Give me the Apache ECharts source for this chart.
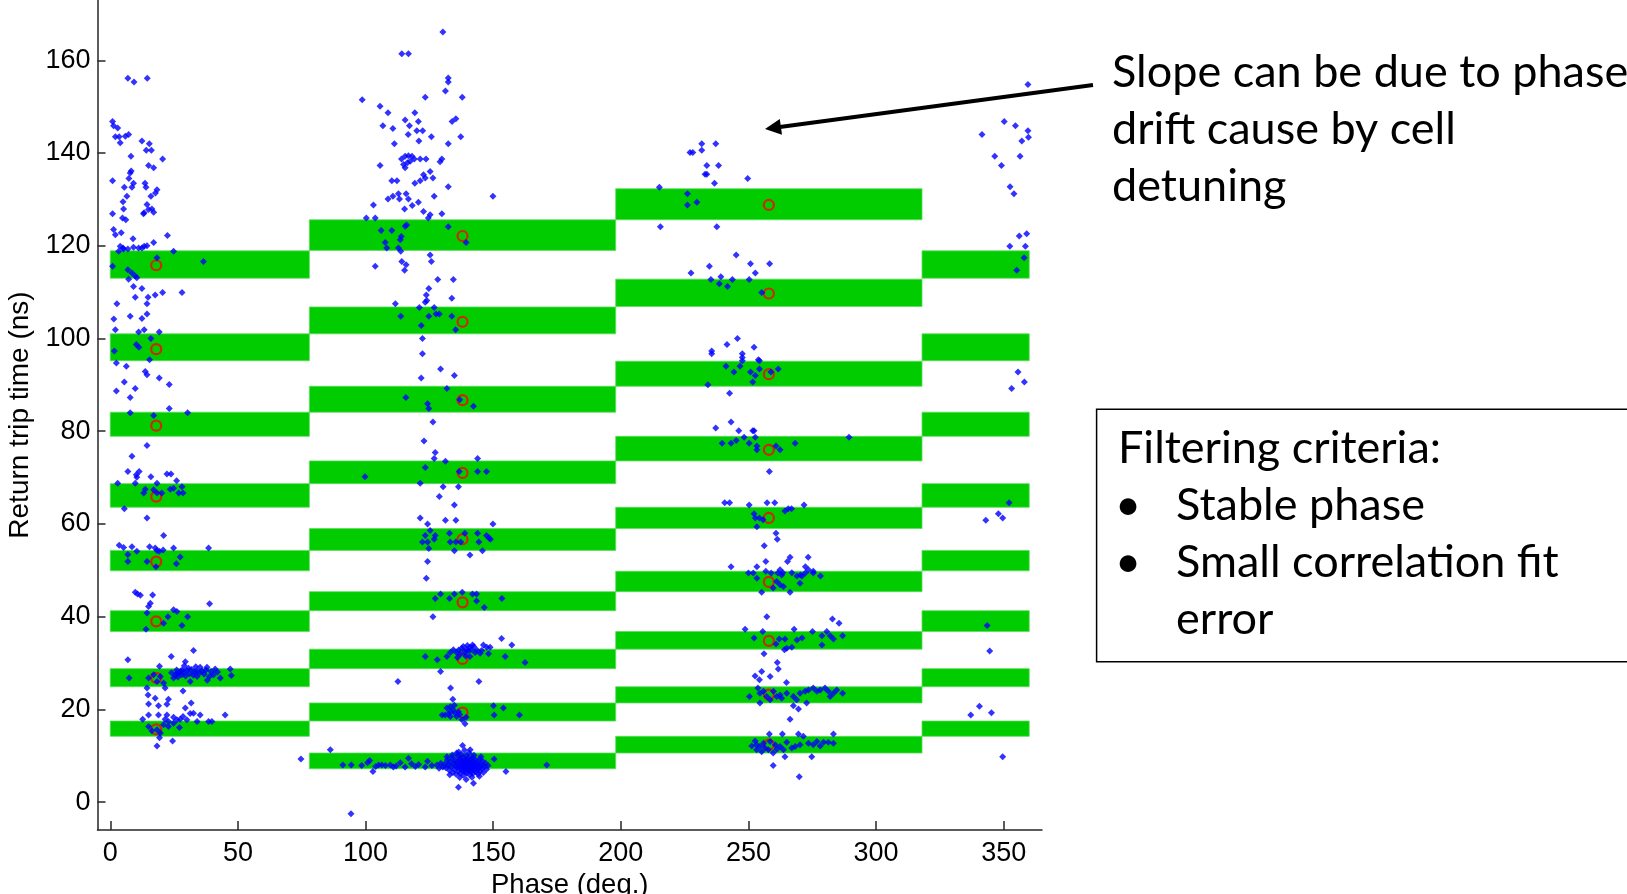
<!DOCTYPE html>
<html>
<head>
<meta charset="utf-8">
<script src="https://cdn.jsdelivr.net/npm/echarts@6/dist/echarts.min.js"></script>
<style>
html,body{margin:0;padding:0;background:#fff;}
#chart{width:1627px;height:894px;}
</style>
</head>
<body>
<div id="chart"></div>
<script>
// ---- tick labels ----
var xTicks = [0, 50, 100, 150, 200, 250, 300, 350];
var yTicks = [0, 20, 40, 60, 80, 100, 120, 140, 160];

// ---- green acceptance windows: phase columns and time bands [low, high] ----
var colEdges = [0, 78, 198, 318, 360];
var bandsA = [[113.0,118.9],[95.2,101.0],[78.9,84.1],[63.6,68.7],[49.9,54.3],[36.8,41.3],[24.9,28.8],[14.2,17.5]];
var bandsB = [[119.0,125.6],[101.0,106.8],[84.1,89.7],[68.7,73.6],[54.3,59.0],[41.3,45.4],[28.8,33.0],[17.5,21.4],[7.2,10.6]];
var bandsC = [[125.6,132.3],[106.9,112.8],[89.7,95.1],[73.6,78.9],[59.0,63.6],[45.4,49.8],[33.0,36.8],[21.4,24.9],[10.6,14.2]];

// ---- red circles: phase and times ----
var circlePhase = [18, 138, 258];
var circleTimesA = [115.8, 97.7, 81.2, 65.9, 51.9, 39.0, 26.8, 15.7];
var circleTimesB = [122.1, 103.6, 86.7, 71.0, 56.7, 43.1, 30.9, 19.3, 8.9];
var circleTimesC = [128.8, 109.7, 92.3, 76.0, 61.3, 47.5, 34.8, 23.2, 12.4];

// ---- blue measured points [phase, time] ----
var blueCol1 = [
[6.9,156.1],[9.3,155.3],[14.5,156.1],[0.9,146.8],[1.3,145.9],[2.9,145.4],
[2.0,143.5],[3.5,143.5],[3.9,142.2],[5.9,143.6],[7.2,144.0],
[12.4,142.6],[15.3,142.0],[16.1,140.6],[14.1,140.6],[8.1,139.3],[20.5,138.7],[15.0,137.3],[17.0,136.8],
[0.9,134.0],[8.2,136.1],[7.8,135.7],[7.3,134.5],[9.1,133.5],[8.5,132.6],[5.5,132.6],[6.5,130.7],[13.6,133.5],[14.0,132.6],[18.3,132.1],[17.7,131.4],[15.9,130.7],[5.0,129.5],[5.2,127.9],[4.8,126.0],[6.1,125.6],
[0.9,126.9],[14.4,128.9],[15.0,127.8],[13.3,127.1],[13.0,126.9],[16.3,127.9],[17.0,127.2],
[1.3,123.5],[2.0,122.4],[4.3,122.8],[3.9,119.9],[5.0,119.5],[3.3,118.8],[5.2,119.3],[6.9,119.3],
[8.9,121.5],[9.1,119.7],[11.1,119.5],[12.4,119.5],[13.3,119.9],[14.4,120.0],[17.0,120.7],[22.4,122.2],[24.8,118.8],[18.3,117.4],[36.5,116.6],[0.9,115.6],[6.9,114.8],[8.5,114.1],[10.4,113.1],[9.8,113.5],[7.2,112.8],[9.1,111.2],[12.4,110.8],[14.8,108.9],[9.8,108.9],[17.6,109.4],[20.5,109.9],[28.1,109.9],
[2.6,107.5],[14.4,107.5],[7.8,104.8],[12.4,104.3],[14.4,105.3],[1.4,104.2],[2.0,101.9],[11.1,101.4],[13.3,101.9],[19.2,101.4],[15.9,100.0],[1.6,97.3],[2.4,94.7],[10.2,98.7],[11.2,98.1],[15.4,95.4],[6.3,94.0],[13.7,92.9],[14.4,92.2],[5.5,90.6],[2.4,88.7],[9.8,89.2],[7.8,87.3],[19.2,91.5],[23.1,90.1],[7.8,84.0],[17.0,83.4],[23.1,84.9],[30.3,84.0],
[14.4,76.9],[8.5,74.6],[6.9,71.3],[11.3,71.3],[10.2,70.6],[2.9,68.8],[9.8,68.8],[18.3,68.8],[15.9,70.2],[22.2,70.8],[23.8,70.8],[26.0,69.3],[28.1,68.0],[28.5,66.7],[26.8,66.7],[24.8,67.7],[23.5,67.5],[20.2,66.7],[18.3,66.7],[13.7,67.5],[13.1,66.7],[17.0,67.4],[10.4,70.1],[5.5,63.3],[14.4,61.3],
[3.5,55.4],[5.2,54.9],[8.5,55.1],[10.4,54.1],[6.9,53.4],[6.9,51.9],[14.4,51.9],[15.4,55.1],[17.6,54.8],[18.3,54.3],[19.2,54.1],[20.9,57.5],[20.7,54.4],[24.8,54.8],[27.4,52.9],[25.9,51.4],[38.5,54.8],[17.9,50.8],
[9.8,45.3],[10.7,44.9],[11.8,44.6],[16.6,44.7],[15.7,42.9],[15.0,42.2],[14.4,40.8],[14.0,37.3],[20.9,38.6],[22.6,40.0],[24.8,41.5],[26.1,41.1],[28.1,38.1],[30.3,40.0],[38.9,42.8],
[6.9,30.7],[7.4,26.8],[23.9,31.4],[19.3,29.3],[14.4,24.6],[15.0,26.8],[19.6,27.1],[21.5,24.6],[20.9,25.7],[24.8,26.8],[26.1,27.8],[28.1,28.5],[29.4,30.3],[30.7,28.9],[32.6,32.7],[31.3,26.0],[28.5,24.0],[34.0,28.2],[35.2,29.1],[37.9,29.1],[38.9,27.1],[41.1,28.7],[43.1,26.8],[47.0,28.7],[47.4,27.3],[17.0,27.5],[18.3,26.0],
[26.0,28.5],[27.0,27.8],[27.5,28.2],[28.0,27.5],[28.8,28.0],[29.5,27.2],[30.0,28.4],[31.0,27.7],[31.8,28.6],[32.5,27.4],[33.0,28.0],[34.0,27.1],[35.0,27.9],[36.0,28.3],[36.8,27.6],[37.5,28.5],[39.5,28.2],[40.5,27.5],[42.0,28.1],[25.5,27.4],[26.5,27.0],[24.0,27.9],[29.0,29.4],[33.5,29.2],[38.0,26.3],
[12.7,17.9],[14.8,23.1],[15.0,21.2],[17.6,22.4],[18.9,20.8],[22.2,21.1],[22.8,22.2],[15.0,18.8],[18.9,18.8],[22.2,18.8],[18.3,15.6],[19.6,14.9],[19.3,13.9],[20.9,16.7],[22.8,17.4],[24.8,17.0],[26.1,17.8],[27.4,17.9],[28.5,18.5],[29.4,20.3],[31.7,21.4],[31.3,19.1],[32.6,19.2],[35.2,18.8],[34.0,17.4],[38.5,17.4],[39.8,17.4],[45.0,18.8],[27.1,16.1],[24.4,13.2],[18.3,12.1],[15.0,16.3],[16.3,15.4],[21.5,17.9],[24.8,18.3],[22.8,16.3],[30.0,17.8]
];
var blueCol2 = [
[130.3,166.1],[114.2,161.4],[116.8,161.4],[132.4,156.2],[132.4,155.3],[131.3,153.4],
[98.7,151.5],[105.7,150.1],[108.8,148.7],[123.4,152.0],[137.9,152.0],
[106.8,145.9],[110.7,145.3],[115.5,147.1],[117.2,145.9],[119.3,148.7],[120.7,146.8],[120.1,144.8],[122.4,144.8],[133.9,146.8],[135.4,147.4],[125.8,143.5],[137.3,143.5],[116.7,144.0],[120.9,142.6],[111.3,142.0],[132.4,142.0],
[105.7,137.3],[114.1,138.7],[115.5,139.3],[116.8,139.4],[118.2,139.3],[119.1,138.7],[121.4,138.7],[123.7,138.7],[114.9,137.5],[115.5,136.8],[116.4,137.9],[117.5,138.2],[129.2,138.1],[129.9,138.7],
[110.3,134.0],[112.3,134.0],[125.3,136.0],[126.4,134.6],[122.7,135.3],[123.4,134.6],[121.4,134.0],[119.3,133.5],[132.4,132.7],[149.9,130.7],
[108.8,130.1],[110.7,130.7],[112.9,131.2],[115.9,131.2],[116.8,130.1],[113.3,130.1],[120.7,129.4],[118.3,128.7],[115.3,127.9],[122.7,127.4],[125.3,126.7],[124.6,126.0],[129.9,126.9],[126.9,130.7],[103.1,128.8],
[100.3,126.0],[103.8,126.0],[115.5,124.2],[116.1,124.5],[132.4,124.1],
[106.1,123.3],[110.3,123.3],[114.0,122.0],[113.6,121.3],[107.7,120.7],[108.3,119.5],[112.9,119.5],[113.8,118.8],[139.4,120.7],
[103.8,115.6],[114.2,116.6],[115.9,115.9],[115.3,114.7],[125.3,118.0],[125.8,116.6],
[128.3,112.7],[134.4,112.7],[124.8,110.8],[123.8,109.4],[133.8,108.7],
[123.4,107.8],[124.0,108.2],[111.7,107.5],[121.1,106.7],[126.9,106.7],
[113.8,104.8],[124.8,104.8],[127.6,105.3],[128.9,105.3],[133.8,104.8],[121.8,102.8],[135.3,101.9],
[122.3,100.0],[122.3,96.7],[129.4,93.4],[134.8,92.0],[121.8,91.5],[131.9,89.2],
[115.8,87.3],[124.3,85.9],[124.8,84.9],[136.9,86.8],[142.3,85.4],[126.4,82.0],[122.9,77.9],
[127.3,75.4],[126.9,74.1],[131.3,73.5],[143.9,74.1],[123.4,72.2],[99.8,70.2],[136.7,71.3],[143.9,71.3],[147.4,71.3],
[121.4,68.8],[130.4,68.0],[136.4,68.0],[128.9,65.9],[134.8,64.1],
[121.4,61.3],[124.3,60.0],[131.3,60.8],[135.4,60.8],[149.9,60.0],
[125.3,58.6],[123.4,57.5],[127.3,57.5],[126.9,56.7],[132.9,58.0],[122.3,56.1],[124.3,56.1],[133.2,56.1],[135.4,56.1],[137.3,56.1],[138.9,58.0],[143.9,58.0],[144.4,56.1],[147.4,57.5],[148.4,57.0],[148.9,56.7],[124.8,54.7],[134.8,54.2],[140.9,53.3],[145.8,54.2],[124.3,51.9],[123.8,48.3],
[127.3,43.9],[129.4,44.9],[132.9,43.9],[134.8,44.9],[137.9,45.3],[141.9,44.9],[143.5,44.9],[143.5,43.4],[146.5,42.0],[153.4,43.9],[126.4,40.0],
[123.4,31.4],[128.1,30.7],[129.4,28.2],[131.9,31.4],[133.2,32.3],[134.4,32.9],[135.7,32.3],[137.7,33.2],[138.3,33.6],[139.6,32.9],[140.9,33.4],[141.9,33.9],[140.9,31.4],[142.9,32.3],[144.9,32.1],[146.2,33.9],[147.5,33.4],[148.8,33.4],[148.2,32.0],[153.3,35.3],[157.3,33.9],[154.7,31.4],[162.5,30.1],[112.7,26.0],[133.3,24.6],[144.4,26.0],
[136.5,32.8],[137.1,31.9],[138.9,32.4],[139.2,31.5],[140.2,32.6],[141.3,32.9],[142.4,33.6],[143.6,32.8],[145.5,32.7],[136.0,31.2],[139.9,33.8],
[134.2,22.2],[133.2,20.6],[131.9,20.3],[130.0,18.8],[131.2,18.8],[133.2,18.5],[135.1,19.2],[136.4,19.5],[135.7,18.5],[139.4,18.3],[139.0,16.9],[150.1,20.8],[154.0,20.3],[150.4,18.8],[160.3,18.8],[133.2,19.5],[134.4,19.9],[132.5,19.0],[134.8,20.9],[136.9,18.9],[137.8,17.8],
[86.2,11.3],[74.7,9.3],[91.1,8.0],[94.4,8.0],[101.6,9.0],[100.8,8.5],[102.9,6.6],[105.1,8.0],[106.4,8.0],[109.7,8.0],[110.9,7.6],[113.6,8.5],[115.5,7.6],[116.8,9.5],[123.4,7.6],[124.3,8.8],[128.0,8.0],[131.9,9.8],[135.7,10.6],[138.0,12.2],[141.0,11.3],[145.2,9.8],[150.4,9.3],[155.0,6.6],[171.0,8.0],[136.4,3.2],[142.3,4.1],[94.3,-2.5],
[98.5,7.9],[104.0,7.7],[107.8,7.9],[112.0,7.8],[118.0,8.3],[119.5,7.7],[120.8,8.1],[126.0,7.9],
[131.0,8.2],[131.5,7.4],[132.0,9.1],[132.4,8.0],[132.8,6.9],[133.1,8.7],[133.5,7.7],[133.9,9.6],[134.2,6.4],[134.5,8.3],[134.8,7.1],[135.0,9.0],[135.3,7.9],[135.5,6.0],[135.7,8.6],[136.0,7.4],[136.2,9.9],[136.4,6.7],[136.6,8.1],[136.8,7.6],[137.0,9.3],[137.1,6.2],[137.3,8.8],[137.5,7.2],[137.6,10.3],[137.8,8.4],[138.0,6.8],[138.1,7.8],[138.3,9.5],[138.4,5.8],[138.6,8.2],[138.7,7.0],[138.9,9.0],[139.0,6.5],[139.2,8.6],[139.3,7.5],[139.5,10.0],[139.6,7.9],[139.8,6.3],[139.9,8.9],[140.1,7.3],[140.2,9.4],[140.4,6.9],[140.5,8.1],[140.7,7.7],[140.8,5.9],[141.0,8.5],[141.1,7.1],[141.3,9.2],[141.4,6.6],[141.6,8.0],[141.8,7.4],[141.9,9.7],[142.1,6.2],[142.2,8.7],[142.4,7.6],[142.6,6.9],[142.7,8.3],[142.9,7.2],[143.1,9.1],[143.3,6.5],[143.5,7.9],[143.7,8.6],[143.9,7.0],[144.1,6.1],[144.3,8.2],[144.5,7.5],[144.8,9.3],[145.0,6.7],[145.3,8.0],[145.6,7.3],[145.9,8.8],[146.2,6.4],[146.6,7.7],[147.0,8.4],[147.4,7.1],[148.0,7.9],[134.0,10.2],[136.5,10.8],[138.8,11.2],[140.6,10.6],[142.5,10.1],[133.0,5.9],[136.9,5.3],[139.4,4.9],[141.7,5.4],[144.6,5.6],[130.3,7.6],[129.5,8.4],[128.8,7.3]
];
var blueCol3 = [
[231.7,142.0],[237.2,142.0],[227.1,140.1],[228.2,140.1],[231.7,140.6],[233.7,137.3],[238.3,137.3],[233.0,135.4],[233.7,135.4],[236.7,133.5],[249.7,134.5],[215.1,132.6],[226.1,131.2],[226.1,128.8],[229.8,129.4],[215.5,124.1],[237.6,124.1],
[245.2,118.0],[234.7,115.6],[250.8,116.1],[258.3,116.1],[227.5,114.1],[252.7,114.1],[235.3,112.7],[239.2,113.3],[238.6,111.8],[241.8,111.2],[243.7,112.7],[250.3,112.7],[255.2,109.9],
[245.7,100.0],[241.6,98.7],[252.2,98.1],[235.6,97.3],[235.6,96.7],[247.6,96.7],[247.6,95.9],[247.6,95.2],[253.9,95.4],[254.3,95.2],[241.2,94.0],[244.3,92.8],[246.7,94.0],[250.8,92.8],[252.7,92.0],[254.3,93.4],[258.8,92.8],[261.7,93.4],[251.7,90.6],[234.1,90.0],[242.6,88.2],
[243.2,82.0],[237.2,80.7],[246.2,80.1],[251.7,80.1],[252.2,80.1],[248.3,78.7],[252.7,78.7],[239.7,77.4],[243.2,77.4],[245.2,78.0],[250.3,77.4],[253.3,76.8],[253.3,76.0],[260.8,76.8],[262.4,76.0],[268.3,77.4],[289.4,78.7],[258.2,71.3],
[240.7,64.6],[242.6,64.6],[250.3,64.1],[257.3,64.6],[260.3,64.6],[271.8,64.1],[264.3,62.8],[265.6,63.3],[266.9,63.3],[252.2,62.2],[252.7,61.3],[254.3,61.3],[255.7,60.9],[253.3,59.4],[260.8,58.0],[261.3,56.7],[256.2,55.3],
[243.2,50.8],[253.3,50.8],[256.8,51.9],[265.3,51.9],[266.3,52.8],[273.4,52.8],[272.3,50.8],[273.5,50.1],[275.4,49.8],[256.8,49.8],[250.0,49.4],[251.9,49.4],[262.4,50.1],[263.5,49.5],[267.0,49.5],[269.0,48.8],[271.0,48.8],[278.2,48.8],
[258.9,49.4],[261.5,49.4],[263.0,49.0],[270.4,49.0],[272.3,49.4],[275.4,49.4],[253.3,48.3],[261.1,47.6],[262.4,46.9],[263.7,46.5],[270.2,47.2],[255.2,45.3],[266.3,45.3],[259.7,46.2],
[257.2,40.0],[282.9,39.5],[285.5,38.6],[248.7,37.3],[255.6,36.8],[267.9,37.3],[275.1,36.8],[280.7,36.8],[282.0,35.9],[283.3,35.2],[286.9,35.9],[252.2,35.4],[260.8,34.1],[262.1,35.2],[264.3,35.2],[265.0,33.2],[264.1,32.9],[269.0,35.0],[271.0,35.4],[278.8,35.9],[278.8,33.9],[267.0,33.4],[256.1,32.0],[261.3,30.1],[261.7,28.7],
[252.6,27.2],[255.2,28.2],[258.5,27.1],[254.3,26.4],[264.9,25.8],[253.7,24.6],[250.4,22.8],[254.5,23.5],[255.9,23.9],[259.8,23.9],[262.4,23.1],[265.0,23.5],[267.6,22.8],[268.9,22.1],[270.2,23.5],[272.2,23.9],[273.5,24.2],[275.4,24.6],[276.8,23.9],[278.1,24.2],[280.0,24.6],[281.3,23.9],[282.0,22.8],[283.3,23.5],[284.6,24.2],[286.9,23.5],[254.5,21.4],[261.1,22.8],[267.6,20.8],[269.6,20.1],[272.8,21.4],[266.3,17.9],[257.2,22.8],[258.5,22.1],[263.0,22.4],
[258.2,14.7],[263.3,14.7],[269.6,14.7],[271.5,14.2],[283.3,14.7],[252.6,13.2],[251.3,12.1],[253.2,12.4],[254.5,12.0],[255.9,12.7],[256.5,11.7],[257.8,11.3],[258.5,13.1],[260.5,12.4],[262.4,12.0],[263.7,11.3],[265.0,12.9],[267.0,11.7],[268.3,12.0],[270.2,12.4],[273.5,12.7],[275.4,12.4],[276.8,13.1],[278.1,12.1],[279.4,12.9],[281.3,12.9],[283.3,12.7],[259.7,10.6],[264.3,9.8],[274.8,9.8],[259.7,7.9],[269.9,5.5],[253.2,11.3],[255.2,10.9],[261.1,11.4]
];
var blueCol4 = [
[359.5,154.8],[350.2,146.8],[354.6,145.9],[359.5,144.8],[359.7,143.4],[357.1,142.6],[341.5,144.0],[346.5,139.3],[356.4,139.3],[349.1,137.3],[352.5,132.7],[354.0,131.2],[356.1,122.1],[359.0,122.6],[352.4,119.9],[358.5,119.9],[358.0,117.4],[355.1,114.7],
[355.6,92.8],[358.1,90.6],[353.1,89.2],[352.1,64.6],[347.9,62.2],[349.6,61.3],[343.0,60.8],
[343.5,38.1],[344.5,32.6],[340.5,20.7],[337.1,18.8],[345.2,19.3],[349.6,9.8]
];

// ---- build series data ----
var bandData = [];
function addBands(bands, c0, c1) {
  bands.forEach(function (b) { bandData.push([colEdges[c0], colEdges[c1], b[0], b[1]]); });
}
addBands(bandsA, 0, 1);
addBands(bandsB, 1, 2);
addBands(bandsC, 2, 3);
addBands(bandsA, 3, 4);

var circleData = [];
[circleTimesA, circleTimesB, circleTimesC].forEach(function (ts, i) {
  ts.forEach(function (t) { circleData.push([circlePhase[i], t]); });
});
var blueData = blueCol1.concat(blueCol2, blueCol3, blueCol4);

var axisFont = 'Liberation Sans';
var axisColor = '#262626';
var noteFont = 'Lato';

var chart = echarts.init(document.getElementById('chart'), null, {renderer: 'canvas'});
chart.setOption({
  animation: false,
  backgroundColor: '#ffffff',
  grid: {left: 97.5, right: 585, top: 0, bottom: 64, containLabel: false, outerBoundsMode: 'none'},
  xAxis: {
    type: 'value', min: -5, max: 365,
    axisLine: {show: true, onZero: false, lineStyle: {color: axisColor, width: 1.5}},
    axisTick: {show: true, inside: true, length: 9, customValues: xTicks, lineStyle: {color: axisColor, width: 1.5}},
    axisLabel: {customValues: xTicks, fontFamily: axisFont, fontSize: 27, color: '#000', margin: 10},
    splitLine: {show: false},
    name: 'Phase (deg.)', nameLocation: 'middle', nameGap: 39,
    nameTextStyle: {fontFamily: axisFont, fontSize: 27.5, color: '#000'}
  },
  yAxis: {
    type: 'value', min: -6, max: 173,
    axisLine: {show: true, onZero: false, lineStyle: {color: axisColor, width: 1.5}},
    axisTick: {show: true, inside: true, length: 8, customValues: yTicks, lineStyle: {color: axisColor, width: 1.5}},
    axisLabel: {customValues: yTicks, fontFamily: axisFont, fontSize: 27, color: '#000', margin: 7},
    splitLine: {show: false},
    name: 'Return trip time (ns)', nameLocation: 'middle', nameGap: 58, nameRotate: 90,
    nameTextStyle: {fontFamily: axisFont, fontSize: 28, color: '#000'}
  },
  series: [
    {
      type: 'custom', z: 1,
      encode: {x: [0, 1], y: [2, 3]},
      data: bandData,
      renderItem: function (params, api) {
        var p0 = api.coord([api.value(0), api.value(3)]);
        var p1 = api.coord([api.value(1), api.value(2)]);
        return {
          type: 'rect',
          shape: {x: p0[0], y: p0[1], width: p1[0] - p0[0], height: p1[1] - p0[1]},
          style: {fill: '#00cc00', stroke: '#5ddc5d', lineWidth: 0.8}
        };
      }
    },
    {
      type: 'scatter', z: 2,
      symbol: 'circle', symbolSize: 10,
      itemStyle: {color: 'rgba(0,0,0,0)', borderColor: '#ff0000', borderWidth: 2.2},
      data: circleData
    },
    {
      type: 'scatter', z: 3,
      symbol: 'diamond', symbolSize: 7,
      itemStyle: {color: '#0000ff'},
      data: blueData
    }
  ],
  graphic: [
    {type: 'line', shape: {x1: 778, y1: 127.3, x2: 1093, y2: 85}, style: {stroke: '#000', lineWidth: 4}},
    {type: 'polygon', shape: {points: [[765, 129], [782, 134.8], [779.8, 119]]}, style: {fill: '#000'}},
    {type: 'text', x: 1112, y: 44.3, style: {
      text: 'Slope can be due to phase\ndrift cause by cell\ndetuning',
      fontFamily: noteFont, fontSize: 45, lineHeight: 57, fill: '#000', verticalAlign: 'top', align: 'left'}},
    {type: 'rect', shape: {x: 1096.6, y: 409.3, width: 700, height: 252.4},
      style: {fill: 'none', stroke: '#000', lineWidth: 1.5}},
    {type: 'text', x: 1118, y: 420.3, style: {
      text: 'Filtering criteria:', fontFamily: noteFont, fontSize: 45, lineHeight: 57, fill: '#000', verticalAlign: 'top'}},
    {type: 'text', x: 1115, y: 477.3, style: {
      text: '•\n•', fontFamily: noteFont, fontSize: 45, lineHeight: 57, fill: '#000', verticalAlign: 'top'}},
    {type: 'text', x: 1176, y: 477.3, style: {
      text: 'Stable phase\nSmall correlation fit\nerror', fontFamily: noteFont, fontSize: 45, lineHeight: 57, fill: '#000', verticalAlign: 'top'}}
  ]
});
</script>
</body>
</html>
